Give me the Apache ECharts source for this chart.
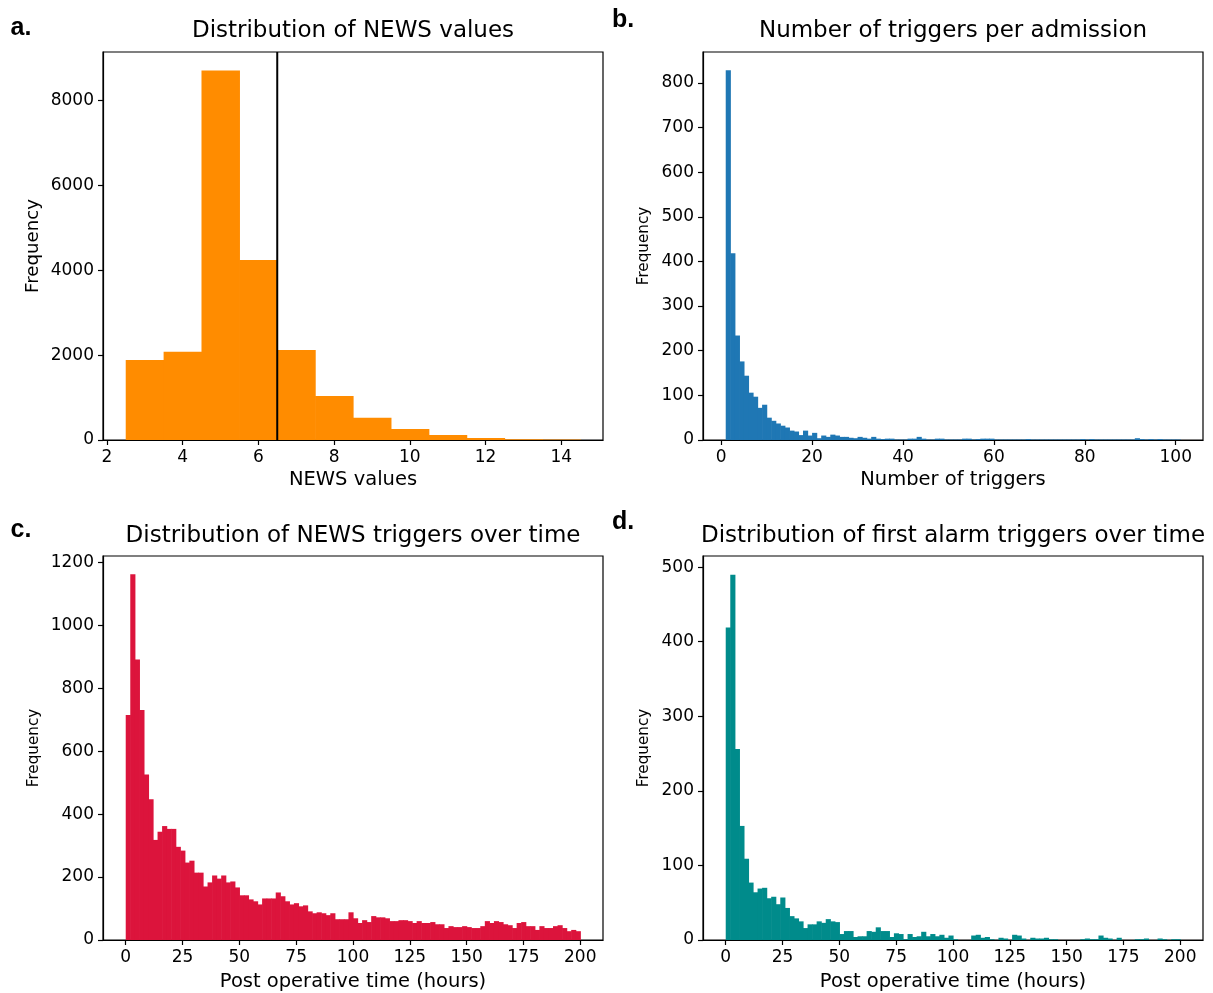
<!DOCTYPE html>
<html>
<head>
<meta charset="utf-8">
<title>NEWS histograms</title>
<script src="https://cdn.jsdelivr.net/npm/echarts@6/dist/echarts.min.js"></script>
<style>
	html, body { margin: 0; padding: 0; background: #fff; }
	#chart { width: 1213px; height: 993px; }
</style>
</head>
<body>
<div id="chart"></div>
<script>
// ================================
// 数据部分
// ================================
// a. NEWS 值分布，bin 宽 1，从 2.5 开始
const newsBinStart = 2.5;
const newsBinWidth = 1;
const newsCounts = [1882, 2078, 8706, 4243, 2118, 1035, 525, 259, 118, 47, 15, 10];
const newsThreshold = 6.5;
const newsXTicks = [2, 4, 6, 8, 10, 12, 14];
const newsYTicks = [0, 2000, 4000, 6000, 8000];

// b. 每次住院触发次数，bin 宽 1，从 1 开始
const triggerBinStart = 1;
const triggerBinWidth = 1;
const triggerCounts = [
	828, 418, 234, 176, 144, 106, 97, 72, 79, 50,
	43, 37, 32, 28, 21, 19, 11, 21, 10, 16,
	4, 10, 7, 12, 10, 7, 7, 5, 4, 7,
	5, 3, 7, 3, 2, 3, 3, 1, 1, 1,
	3, 3, 7, 3, 1, 1, 3, 3, 1, 1,
	1, 1, 3, 3, 1, 2, 3, 3, 3, 1,
	1, 1, 1, 1, 1, 1, 2, 1, 1, 1,
	1, 1, 1, 1, 1, 1, 1, 1, 2, 1,
	2, 1, 1, 1, 1, 1, 1, 1, 1, 1,
	4, 2, 1, 2, 1, 2, 1, 1, 1, 1
];
const triggerXTicks = [0, 20, 40, 60, 80, 100];
const triggerYTicks = [0, 100, 200, 300, 400, 500, 600, 700, 800];

// c. NEWS 触发随术后时间分布，bin 宽 2 小时
const timeBinStart = 0;
const timeBinWidth = 2;
const timeCounts = [
	715, 1162, 891, 731, 526, 447, 318, 344, 362, 353,
	353, 296, 284, 246, 252, 214, 214, 170, 183, 205,
	195, 205, 183, 186, 167, 142, 142, 129, 123, 113,
	132, 132, 132, 151, 139, 123, 113, 117, 107, 110,
	91, 85, 88, 85, 79, 85, 66, 66, 66, 88,
	69, 54, 63, 57, 76, 72, 72, 69, 60, 60,
	63, 63, 60, 54, 60, 54, 54, 57, 50, 50,
	38, 44, 41, 41, 44, 41, 38, 38, 44, 60,
	54, 60, 57, 50, 47, 38, 54, 57, 44, 44,
	32, 44, 38, 38, 44, 47, 38, 28, 32, 28
];
const timeYTicks = [0, 200, 400, 600, 800, 1000, 1200];

// d. 首次报警随术后时间分布，bin 宽 2 小时
const alarmCounts = [
	419, 490, 256, 153, 109, 77, 64, 69, 70, 56,
	58, 48, 57, 43, 32, 29, 25, 16, 21, 21,
	25, 23, 28, 25, 24, 8, 12, 12, 4, 5,
	5, 12, 11, 17, 12, 12, 4, 9, 8, 1,
	8, 4, 5, 11, 5, 8, 5, 7, 3, 6,
	1, 0, 0, 0, 6, 7, 3, 4, 1, 0,
	3, 2, 0, 7, 6, 2, 0, 3, 2, 2,
	3, 1, 1, 0, 0, 0, 0, 0, 1, 2,
	1, 1, 6, 3, 2, 0, 3, 0, 0, 0,
	1, 1, 2, 0, 0, 2, 1, 0, 1, 1
];
const alarmYTicks = [0, 100, 200, 300, 400, 500];
const hoursXTicks = [0, 25, 50, 75, 100, 125, 150, 175, 200];

// ================================
// 工具函数
// ================================
// 把计数数组变成 [左边界, 右边界, 频数]
function toBins(counts, start, width) {
	return counts.map(function (c, i) {
		return [start + i * width, start + (i + 1) * width, c];
	});
}

// 直方图矩形，稍微加宽一点避免相邻柱子之间出现缝隙
function histRender(color) {
	return function (params, api) {
		const p0 = api.coord([api.value(0), 0]);
		const p1 = api.coord([api.value(1), api.value(2)]);
		return {
			type: 'rect',
			shape: {
				x: p0[0],
				y: p1[1],
				width: p1[0] - p0[0] + 0.6,
				height: p0[1] - p1[1]
			},
			style: { fill: color }
		};
	};
}

const FONT = 'DejaVu Sans';
const tickFont = 17;
// 不要千分位
const plainNum = function (v) { return String(v); };

function xAxisCfg(gi, min, max, ticks, name, gap) {
	return {
		type: 'value',
		gridIndex: gi,
		min: min,
		max: max,
		z: 5,
		name: name,
		nameLocation: 'middle',
		nameGap: gap,
		nameTextStyle: { fontFamily: FONT, fontSize: 19.5, color: '#000' },
		axisLine: { show: true, onZero: false, lineStyle: { color: '#000', width: 1.2 } },
		axisTick: { show: true, length: 5, customValues: ticks, lineStyle: { color: '#000', width: 1.2 } },
		axisLabel: { customValues: ticks, formatter: plainNum, margin: 9, fontFamily: FONT, fontSize: tickFont, color: '#000' },
		splitLine: { show: false }
	};
}

function yAxisCfg(gi, max, ticks, nameSize, nameGap) {
	return {
		type: 'value',
		gridIndex: gi,
		min: 0,
		max: max,
		z: 5,
		name: 'Frequency',
		nameLocation: 'middle',
		nameGap: nameGap,
		nameRotate: 90,
		nameTextStyle: { fontFamily: FONT, fontSize: nameSize, color: '#000' },
		axisLine: { show: true, onZero: false, lineStyle: { color: '#000', width: 1.2 } },
		axisTick: { show: true, length: 5, customValues: ticks, lineStyle: { color: '#000', width: 1.2 } },
		axisLabel: { customValues: ticks, formatter: plainNum, margin: 9, fontFamily: FONT, fontSize: tickFont, color: '#000' },
		splitLine: { show: false }
	};
}

function panelText(x, y, text, size, bold, family) {
	return {
		type: 'text',
		x: x,
		y: y,
		z: 10,
		style: {
			text: text,
			fontFamily: family,
			fontSize: size,
			fontWeight: bold ? 'bold' : 'normal',
			fill: '#000',
			align: 'center',
			verticalAlign: 'middle'
		}
	};
}

// ================================
// 图表配置部分
// ================================
const chart = echarts.init(document.getElementById('chart'), null, { renderer: 'canvas' });

const gridBox = { show: true, borderColor: '#000', borderWidth: 1.2, backgroundColor: 'transparent', width: 500, height: 388 };

const option = {
	animation: false,
	backgroundColor: '#fff',
	grid: [
		Object.assign({ left: 103, top: 52 }, gridBox),
		Object.assign({ left: 703, top: 52 }, gridBox),
		Object.assign({ left: 103, top: 556 }, gridBox),
		Object.assign({ left: 703, top: 556 }, gridBox)
	],
	xAxis: [
		xAxisCfg(0, 1.9, 15.1, newsXTicks, 'NEWS values', 30),
		xAxisCfg(1, -4, 106, triggerXTicks, 'Number of triggers', 30),
		xAxisCfg(2, -10, 210, hoursXTicks, 'Post operative time (hours)', 32),
		xAxisCfg(3, -10, 210, hoursXTicks, 'Post operative time (hours)', 32)
	],
	yAxis: [
		yAxisCfg(0, 9140, newsYTicks, 18.2, 61),
		yAxisCfg(1, 869, triggerYTicks, 15.2, 51),
		yAxisCfg(2, 1220, timeYTicks, 15.2, 61),
		yAxisCfg(3, 515, alarmYTicks, 15.2, 51)
	],
	series: [
		{
			type: 'custom',
			xAxisIndex: 0,
			yAxisIndex: 0,
			renderItem: histRender('#ff8c00'),
			encode: { x: [0, 1], y: 2 },
			data: toBins(newsCounts, newsBinStart, newsBinWidth)
		},
		{
			// 阈值竖线
			type: 'line',
			xAxisIndex: 0,
			yAxisIndex: 0,
			symbol: 'none',
			z: 6,
			lineStyle: { color: '#000', width: 2 },
			data: [[newsThreshold, 0], [newsThreshold, 9140]]
		},
		{
			type: 'custom',
			xAxisIndex: 1,
			yAxisIndex: 1,
			renderItem: histRender('#1f77b4'),
			encode: { x: [0, 1], y: 2 },
			data: toBins(triggerCounts, triggerBinStart, triggerBinWidth)
		},
		{
			type: 'custom',
			xAxisIndex: 2,
			yAxisIndex: 2,
			renderItem: histRender('#dc143c'),
			encode: { x: [0, 1], y: 2 },
			data: toBins(timeCounts, timeBinStart, timeBinWidth)
		},
		{
			type: 'custom',
			xAxisIndex: 3,
			yAxisIndex: 3,
			renderItem: histRender('#008b8b'),
			encode: { x: [0, 1], y: 2 },
			data: toBins(alarmCounts, timeBinStart, timeBinWidth)
		}
	],
	graphic: [
		panelText(21, 28, 'a.', 25, true, 'Liberation Sans'),
		panelText(623, 20, 'b.', 25, true, 'Liberation Sans'),
		panelText(21, 530, 'c.', 25, true, 'Liberation Sans'),
		panelText(623, 522, 'd.', 25, true, 'Liberation Sans'),
		panelText(353, 31, 'Distribution of NEWS values', 23, false, FONT),
		panelText(953, 31, 'Number of triggers per admission', 23, false, FONT),
		panelText(353, 536, 'Distribution of NEWS triggers over time', 23, false, FONT),
		panelText(953, 536, 'Distribution of first alarm triggers over time', 23, false, FONT)
	]
};

chart.setOption(option);
window.onresize = chart.resize;
</script>
</body>
</html>
